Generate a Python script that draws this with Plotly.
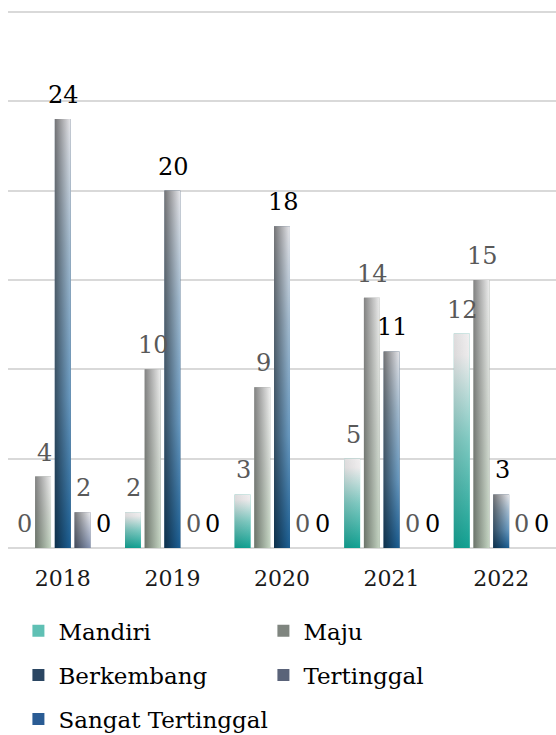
import plotly.graph_objects as go

# Jumlah desa per status IDM, 2018-2022
years = ["2018", "2019", "2020", "2021", "2022"]
mandiri = [0, 2, 3, 5, 12]
maju = [4, 10, 9, 14, 15]
berkembang = [24, 20, 18, 11, 3]
tertinggal = [2, 0, 0, 0, 0]
sangat_tertinggal = [0, 0, 0, 0, 0]

series = [
    ("Mandiri", mandiri),
    ("Maju", maju),
    ("Berkembang", berkembang),
    ("Tertinggal", tertinggal),
    ("Sangat Tertinggal", sangat_tertinggal),
]

# solid colour used for the legend swatch of each series
swatch = {
    "Mandiri": "#5fc0b4",
    "Maju": "#7f857f",
    "Berkembang": "#2b4662",
    "Tertinggal": "#5a6379",
    "Sangat Tertinggal": "#2a5c94",
}
# vertical gradient (bottom -> top) seen on the bright side of each bar
vgrad = {
    "Mandiri": [[0, "#12a293"], [0.5, "#7fcac2"], [0.9, "#eeeced"], [1, "#f1eff0"]],
    "Maju": [[0, "#c3d4c1"], [0.5, "#d6dcd5"], [1, "#eeeeee"]],
    "Berkembang": [[0, "#1b5f94"], [0.35, "#6a9cc4"], [0.7, "#a6bfd4"], [1, "#e8e8ec"]],
    "Tertinggal": [[0, "#8594b2"], [0.5, "#b8c0d2"], [1, "#eeeef1"]],
    "Sangat Tertinggal": [[0, "#2a5c94"], [1, "#2a5c94"]],
}
# darkening towards the left edge of each bar
shade_alpha = {
    "Mandiri": 0.08,
    "Maju": 0.45,
    "Berkembang": 0.5,
    "Tertinggal": 0.5,
    "Sangat Tertinggal": 0.2,
}
label_color = {
    "Mandiri": "#595959",
    "Maju": "#595959",
    "Berkembang": "#000000",
    "Tertinggal": "#595959",
    "Sangat Tertinggal": "#000000",
}
legend_of = {
    "Mandiri": "legend",
    "Maju": "legend",
    "Berkembang": "legend2",
    "Tertinggal": "legend2",
    "Sangat Tertinggal": "legend3",
}

FONT = "DejaVu Serif"
slot = 0.18      # spacing between bars of a group, in category units
bar_w = 0.145    # bar width, in category units
xs = list(range(len(years)))

fig = go.Figure()
annotations = []

for k, (name, vals) in enumerate(series):
    offset = (k - 2) * slot - bar_w / 2
    fig.add_trace(go.Bar(
        x=xs, y=vals, name=name, width=bar_w, offset=offset,
        marker=dict(color=swatch[name], line=dict(width=0)),
        legend=legend_of[name], hoverinfo="skip",
    ))
    for i, v in enumerate(vals):
        x0 = i + offset
        x1 = x0 + bar_w
        if v > 0:
            px = [x0, x1, x1, x0, x0]
            py = [0, 0, v, v, 0]
            fig.add_trace(go.Scatter(
                x=px, y=py, mode="lines", fill="toself",
                line=dict(width=0), showlegend=False, hoverinfo="skip",
                fillgradient=dict(type="vertical", colorscale=vgrad[name]),
            ))
            a = shade_alpha[name]
            fig.add_trace(go.Scatter(
                x=px, y=py, mode="lines", fill="toself",
                line=dict(width=0), showlegend=False, hoverinfo="skip",
                fillgradient=dict(
                    type="horizontal",
                    colorscale=[[0, f"rgba(0,0,0,{a})"], [1, "rgba(0,0,0,0)"]],
                ),
            ))
        annotations.append(dict(
            x=i + (k - 2) * slot, y=v, xref="x", yref="y",
            text=str(v), showarrow=False, yanchor="bottom", yshift=8, xshift=1,
            font=dict(family=FONT, size=24, color=label_color[name]),
        ))

legend_common = dict(
    orientation="h", xanchor="left", x=0.019, yanchor="middle",
    font=dict(family=FONT, size=23, color="#000000"),
    entrywidth=200, entrywidthmode="pixels", bgcolor="rgba(0,0,0,0)",
    traceorder="normal",
)

fig.update_layout(
    width=556, height=735,
    margin=dict(l=8, r=0, t=10, b=187, autoexpand=False),
    paper_bgcolor="white", plot_bgcolor="white",
    barmode="overlay",
    showlegend=True,
    legend=dict(legend_common, y=-0.154),
    legend2=dict(legend_common, y=-0.236),
    legend3=dict(legend_common, y=-0.318, entrywidth=300),
    annotations=annotations,
    xaxis=dict(
        range=[-0.5, 4.5], tickmode="array", tickvals=xs, ticktext=years,
        showgrid=False, zeroline=False, showline=False, ticks="",
        ticklabelstandoff=15,
        tickfont=dict(family=FONT, size=22, color="#1a1a1a"),
    ),
    yaxis=dict(
        range=[0, 30.1], tickmode="array", tickvals=[5, 10, 15, 20, 25, 30],
        showticklabels=False, ticks="",
        showgrid=True, gridcolor="#d9d9d9", gridwidth=2,
        zeroline=True, zerolinecolor="#d9d9d9", zerolinewidth=2,
        showline=False,
    ),
)

fig.write_html("out.html")
